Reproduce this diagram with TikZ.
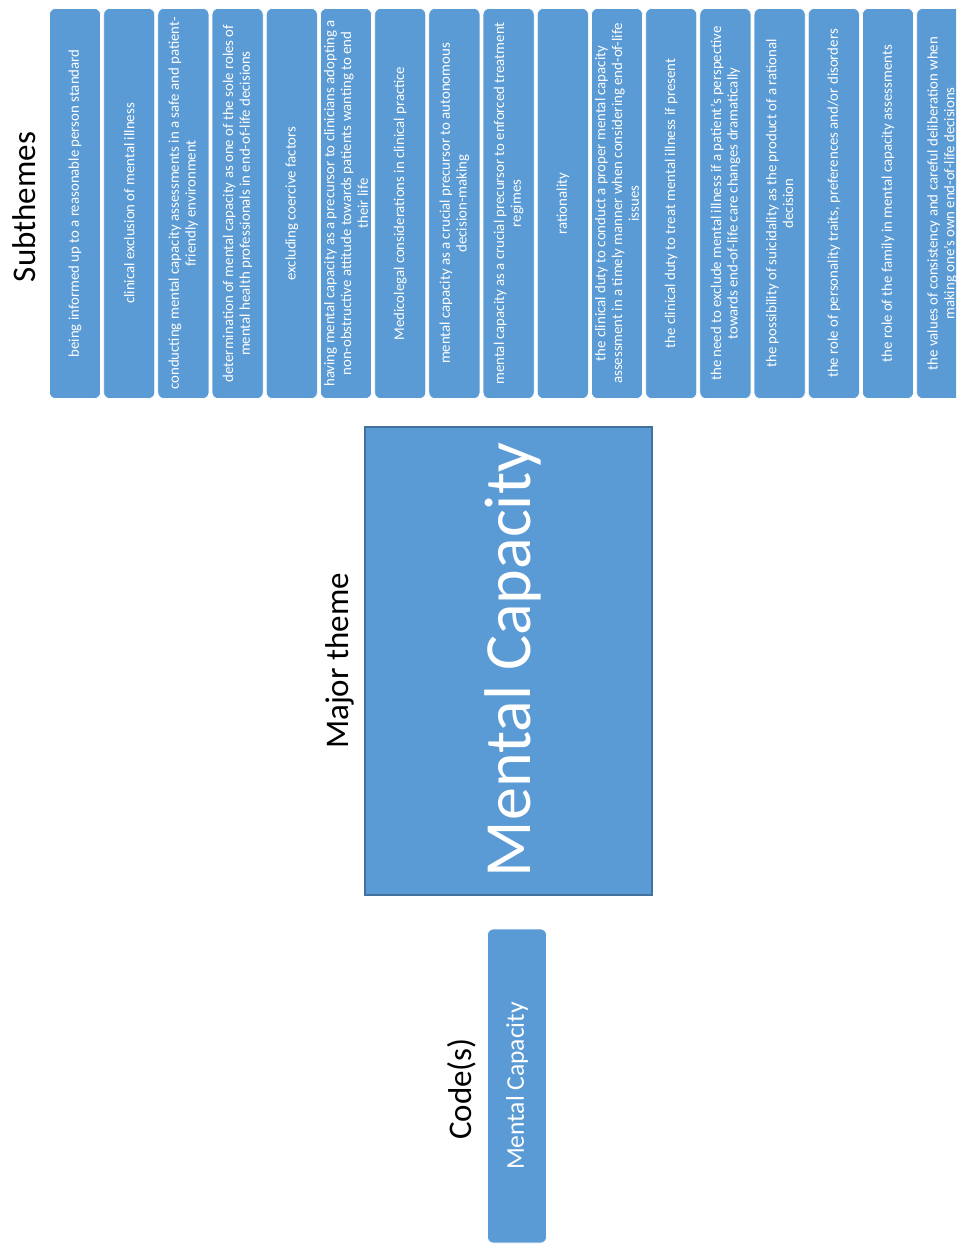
\documentclass[tikz,border=0pt]{standalone}
\usepackage{fontspec}
\setmainfont{Carlito}
\definecolor{boxblue}{HTML}{5B9BD5}
\definecolor{boxedge}{HTML}{41719C}
\begin{document}
\begin{tikzpicture}[x=1pt,y=1pt,
  sub/.style={rotate=90, fill=boxblue, draw=white, line width=0.6pt, rounded corners=6pt,
    minimum width=390pt, minimum height=51pt, inner sep=0pt, align=center, text=white,
    font=\fontsize{14.8}{16.7}\selectfont},
  major/.style={rotate=90, fill=boxblue, draw=boxedge, line width=1.3pt,
    minimum width=468pt, minimum height=287pt, inner sep=0pt},
  majortext/.style={rotate=90, inner sep=0pt, text=white, font=\fontsize{66}{70}\selectfont},
  code/.style={rotate=90, fill=boxblue, draw=white, line width=0.6pt, rounded corners=6pt,
    minimum width=314pt, minimum height=59pt, inner sep=0pt, text=white,
    font=\fontsize{25.5}{30}\selectfont},
  head/.style={rotate=90, inner sep=0pt, text=black, font=\fontsize{33}{38}\selectfont}]
\useasboundingbox (0,0) rectangle (956,-1244);
\clip (0,0) rectangle (956,-1244);
\node[head] (hsub) at (24,-207) {Subthemes};
\node[head] (hmaj) at (340,-661) {Major theme};
\node[head] (hcode) at (462,-1089) {Code(s)};
\node[sub] (s1) at (75.0,-203.5) {being informed up to a reasonable person standard};
\node[sub] (s2) at (129.2,-203.5) {clinical exclusion of mental illness};
\node[sub] (s3) at (183.4,-203.5) {conducting mental capacity assessments in a safe and patient-\\friendly environment};
\node[sub] (s4) at (237.6,-203.5) {determination of mental capacity as one of the sole roles of\\mental health professionals in end-of-life decisions};
\node[sub] (s5) at (291.8,-203.5) {excluding coercive factors};
\node[sub] (s6) at (346.0,-203.5) {having mental capacity as a precursor to clinicians adopting a\\non-obstructive attitude towards patients wanting to end\\their life};
\node[sub] (s7) at (400.2,-203.5) {Medicolegal considerations in clinical practice};
\node[sub] (s8) at (454.4,-203.5) {mental capacity as a crucial precursor to autonomous\\decision-making};
\node[sub] (s9) at (508.6,-203.5) {mental capacity as a crucial precursor to enforced treatment\\regimes};
\node[sub] (s10) at (562.8,-203.5) {rationality};
\node[sub] (s11) at (617.0,-203.5) {the clinical duty to conduct a proper mental capacity\\assessment in a timely manner when considering end-of-life\\issues};
\node[sub] (s12) at (671.2,-203.5) {the clinical duty to treat mental illness if present};
\node[sub] (s13) at (725.4,-203.5) {the need to exclude mental illness if a patient's perspective\\towards end-of-life care changes dramatically};
\node[sub] (s14) at (779.6,-203.5) {the possibility of suicidality as the product of a rational\\decision};
\node[sub] (s15) at (833.8,-203.5) {the role of personality traits, preferences and/or disorders};
\node[sub] (s16) at (888.0,-203.5) {the role of the family in mental capacity assessments};
\node[sub] (s17) at (942.2,-203.5) {the values of consistency and careful deliberation when\\making one's own end-of-life decisions};
\node[major] (maj) at (508.5,-661) {};
\node[majortext] (majt) at (513,-660) {Mental Capacity};
\node[code] (c1) at (517,-1086) {Mental Capacity};
\end{tikzpicture}
\end{document}
